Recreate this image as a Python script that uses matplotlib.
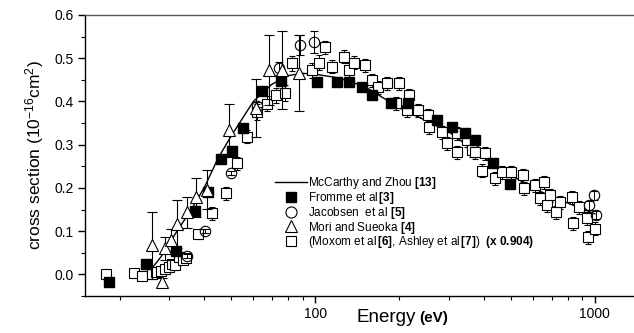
import numpy as np
import matplotlib
matplotlib.use("Agg")
import matplotlib.pyplot as plt
from matplotlib.ticker import LogLocator, MultipleLocator, NullFormatter, FixedLocator, FixedFormatter

plt.rcParams['font.family'] = ['Liberation Sans', 'DejaVu Sans']
plt.rcParams['mathtext.fontset'] = 'custom'
plt.rcParams['mathtext.rm'] = 'Liberation Sans'
plt.rcParams['mathtext.it'] = 'Liberation Sans:italic'
plt.rcParams['mathtext.bf'] = 'Liberation Sans:bold'

# McCarthy and Zhou theory curve
theory_E = [25, 28, 32, 36, 40, 45, 50, 60, 70, 80, 90, 100, 120, 150, 200,
            250, 300, 400, 500, 600, 700, 800, 1000]
theory_sigma = [0.0, 0.04, 0.10, 0.15, 0.20, 0.27, 0.32, 0.40, 0.44, 0.46,
                0.465, 0.463, 0.455, 0.435, 0.385, 0.355, 0.33, 0.27, 0.23,
                0.20, 0.18, 0.165, 0.14]

# Fromme et al
fromme_E = [18.3, 24.8, 31.8, 37.0, 41.4, 46, 50.4, 55.2, 64.5, 75.5, 101.7,
            120, 132, 147, 160, 187, 214, 273, 307, 342, 372, 431, 495]
fromme_sigma = [-0.018, 0.025, 0.055, 0.147, 0.19, 0.266, 0.285, 0.338, 0.424,
                0.447, 0.445, 0.445, 0.445, 0.434, 0.414, 0.396, 0.396, 0.356,
                0.34, 0.326, 0.31, 0.257, 0.21]

# Jacobsen et al
jac_E = [34.8, 40.3, 50, 62, 74, 88.4, 99, 950, 990, 1010]
jac_sigma = [0.042, 0.10, 0.234, 0.389, 0.477, 0.53, 0.537, 0.16, 0.183, 0.137]
jac_err = [0.005, 0.005, 0.005, 0.01, 0.015, 0.023, 0.025, 0.01, 0.01, 0.01]

# Mori and Sueoka
mori_E = [26, 28.3, 29, 30.5, 32, 34.8, 37.5, 41, 49.2, 61.5, 68, 76, 87.6]
mori_sigma = [0.067, -0.018, 0.06, 0.079, 0.116, 0.144, 0.178, 0.196, 0.333,
              0.385, 0.472, 0.472, 0.465]
mori_err = [0.077, 0.01, 0.026, 0.026, 0.055, 0.036, 0.045, 0.045, 0.062,
            0.068, 0.081, 0.09, 0.088]

# Moxom et al, Ashley et al (x 0.904)
mox_E = [17.9, 22.5, 24, 26, 27, 28, 29, 30, 30.7, 31.5, 32.6, 33.5, 34.5,
         38, 42.8, 48, 52.5, 57, 62, 67.3, 72.5, 78, 82.7, 97.5, 103, 108,
         115, 127, 132, 138, 150, 160, 167, 181, 195, 200, 212, 217, 232,
         252, 256, 285, 295, 320, 322, 348, 362, 372, 394, 403, 438, 465,
         503, 552, 560, 610, 635, 660, 672, 690, 728, 750, 825, 835, 880,
         935, 945, 1000]
mox_sigma = [0.0, 0.003, -0.003, 0.002, 0.005, 0.008, 0.012, 0.016, 0.025,
             0.022, 0.04, 0.033, 0.038, 0.093, 0.141, 0.188, 0.257, 0.318,
             0.375, 0.395, 0.414, 0.419, 0.488, 0.472, 0.49, 0.525, 0.48,
             0.503, 0.472, 0.49, 0.484, 0.449, 0.433, 0.442, 0.396, 0.442,
             0.38, 0.414, 0.38, 0.368, 0.34, 0.329, 0.303, 0.326, 0.282,
             0.31, 0.287, 0.282, 0.24, 0.28, 0.222, 0.236, 0.236, 0.229,
             0.199, 0.206, 0.176, 0.213, 0.16, 0.183, 0.144, 0.167, 0.178,
             0.118, 0.155, 0.13, 0.086, 0.106]
mox_err = [0.01, 0.01, 0.01, 0.008, 0.008, 0.008, 0.008, 0.008, 0.008, 0.008,
           0.008, 0.008, 0.008, 0.01, 0.015, 0.015, 0.015, 0.015, 0.018,
           0.018, 0.018, 0.018, 0.018, 0.018, 0.018, 0.015, 0.015, 0.015,
           0.018, 0.015, 0.015, 0.015, 0.015, 0.015, 0.015, 0.015, 0.015,
           0.015, 0.015, 0.015, 0.015, 0.015, 0.015, 0.015, 0.015, 0.015,
           0.015, 0.015, 0.015, 0.015, 0.015, 0.015, 0.015, 0.015, 0.015,
           0.015, 0.015, 0.015, 0.015, 0.015, 0.015, 0.015, 0.015, 0.015,
           0.015, 0.015, 0.015, 0.015]

fig = plt.figure(figsize=(6.34, 3.33), dpi=100)
# right spine sits just outside the image, as in the original
ax = fig.add_axes([85 / 634, 37 / 333, 555 / 634, 281 / 333])

line, = ax.plot(theory_E, theory_sigma, color='black', lw=1.0, zorder=2)

ax.errorbar(mox_E, mox_sigma, yerr=mox_err, fmt='s', ms=7, mfc='white',
            mec='black', mew=0.8, ecolor='black', elinewidth=0.7, capsize=2.2,
            capthick=0.7, zorder=3)
ax.errorbar(fromme_E, fromme_sigma, fmt='s', ms=6.5, mfc='black',
            mec='black', zorder=4)
ax.errorbar(jac_E, jac_sigma, yerr=jac_err, fmt='o', ms=7.5, mfc='none',
            mec='black', mew=0.8, ecolor='black', elinewidth=0.7, capsize=3,
            capthick=0.7, zorder=4)
ax.errorbar(mori_E, mori_sigma, yerr=mori_err, fmt='^', ms=9, mfc='white',
            mec='black', mew=0.8, ecolor='black', elinewidth=0.8, capsize=3.6,
            capthick=0.8, zorder=4)

h_fromme, = ax.plot([], [], 's', ms=6.5, mfc='black', mec='black')
h_jac, = ax.plot([], [], 'o', ms=8, mfc='none', mec='black', mew=0.8)
h_mori, = ax.plot([], [], '^', ms=9, mfc='none', mec='black', mew=0.8)
h_mox, = ax.plot([], [], 's', ms=7.5, mfc='none', mec='black', mew=0.8)

labels = [r'McCarthy and Zhou $\mathbf{[13]}$',
          r'Fromme et al$\,\mathbf{[3]}$',
          r'Jacobsen  et al $\mathbf{[5]}$',
          r'Mori and Sueoka $\mathbf{[4]}$',
          r'(Moxom et al$\,\mathbf{[6]}$, Ashley et al$\,\mathbf{[7]}$)  $\mathbf{(x\ 0.904)}$']
ax.legend([line, h_fromme, h_jac, h_mori, h_mox], labels, loc='upper left',
          bbox_to_anchor=(0.342, 0.43), frameon=False, fontsize=8.5,
          handlelength=2.7, handletextpad=0.15, labelspacing=-0.1,
          borderpad=0, borderaxespad=0)

ax.set_xscale('log')
ax.set_xlim(15, 1450)
ax.set_ylim(-0.05, 0.6)
ax.xaxis.set_major_locator(FixedLocator([100, 1000]))
ax.xaxis.set_major_formatter(FixedFormatter(['100', '1000']))
ax.xaxis.set_minor_locator(LogLocator(base=10, subs=np.arange(2, 10)))
ax.xaxis.set_minor_formatter(NullFormatter())
ax.yaxis.set_major_locator(MultipleLocator(0.1))
ax.yaxis.set_minor_locator(MultipleLocator(0.05))
ax.yaxis.set_major_formatter(matplotlib.ticker.FormatStrFormatter('%.1f'))

ax.tick_params(which='major', direction='out', length=5, width=1,
               labelsize=10, pad=3)
ax.tick_params(which='minor', direction='out', length=3, width=0.8)
for sp in ax.spines.values():
    sp.set_linewidth(1.0)
ax.spines['top'].set_color('#555555')

ax.set_ylabel(r'cross section (10$^{-16}$cm$^{2}$)', fontsize=12.5, labelpad=6)
ax.text(0.49, -0.093, 'Energy', transform=ax.transAxes, fontsize=13.5,
        ha='left', va='baseline')
ax.text(0.603, -0.093, '(eV)', transform=ax.transAxes, fontsize=11,
        fontweight='bold', ha='left', va='baseline')

fig.savefig('out.png', dpi=100)
